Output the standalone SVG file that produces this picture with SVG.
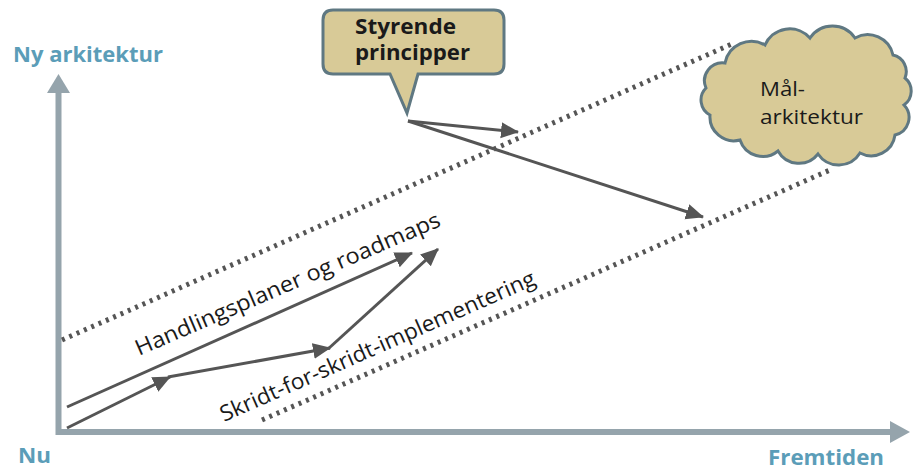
<svg xmlns="http://www.w3.org/2000/svg" width="913" height="470" viewBox="0 0 913 470">
<style>
.axis{stroke:#95A4AC;stroke-width:6;fill:none}
.axhead{fill:#95A4AC}
.axlbl{font-family:"Open Sans",Lato,sans-serif;font-weight:bold;font-size:21px;fill:#5B9DB8}
.dot{stroke:#555;stroke-width:5;stroke-dasharray:3 5;fill:none}
.arr{stroke:#555;stroke-width:3;fill:none;marker-end:url(#ah)}
.lbl{font-family:"Open Sans",Lato,sans-serif;font-size:22px;fill:#1a1a1a}
.bold{font-weight:bold;font-size:21px}
.cl{font-size:20px}
.shape{fill:#D8CA97;stroke:#5F7882;stroke-width:3}
</style>
<defs>
<marker id="ah" markerUnits="userSpaceOnUse" markerWidth="20" markerHeight="18" refX="17" refY="8" orient="auto" viewBox="0 0 20 16">
<path d="M0,0 L18,8 L0,16 z" fill="#555"/>
</marker>
</defs>
<g id="axes">
<path class="axis" d="M58.5,92 L58.5,432 L892,432"/>
<polygon class="axhead" points="58.5,74 70,93 47,93"/>
<polygon class="axhead" points="910,432 890,421 890,443"/>
<text class="axlbl" x="13" y="62" textLength="150" lengthAdjust="spacingAndGlyphs">Ny arkitektur</text>
<text class="axlbl" x="18" y="463" textLength="33" lengthAdjust="spacingAndGlyphs">Nu</text>
<text class="axlbl" x="768" y="465" textLength="116" lengthAdjust="spacingAndGlyphs">Fremtiden</text>
</g>
<g id="connectors">
<line class="dot" x1="62" y1="340" x2="734" y2="43"/>
<line class="dot" x1="262" y1="420" x2="830" y2="170"/>
<line class="arr" x1="67" y1="407" x2="412" y2="253"/>
<line class="arr" x1="67" y1="428" x2="170" y2="377"/>
<line class="arr" x1="168" y1="377" x2="330" y2="348"/>
<line class="arr" x1="328" y1="349" x2="438" y2="249"/>
<line class="arr" x1="408" y1="121" x2="518" y2="132"/>
<line class="arr" x1="408" y1="121" x2="703" y2="217"/>
</g>
<g id="label-handlingsplaner">
<text class="lbl" transform="translate(139,356) rotate(-23.3)" textLength="330" lengthAdjust="spacingAndGlyphs">Handlingsplaner og roadmaps</text>
</g>
<g id="label-skridt">
<text class="lbl" transform="translate(224,422) rotate(-23.8)" textLength="342" lengthAdjust="spacingAndGlyphs">Skridt-for-skridt-implementering</text>
</g>
<g id="styrende-principper">
<path class="shape" d="M333,10 L494,10 Q504,10 504,20 L504,64 Q504,74 494,74 L418,74 L407,113 L390,74 L333,74 Q323,74 323,64 L323,20 Q323,10 333,10 Z"/>
<text class="lbl bold" x="355" y="34" textLength="101" lengthAdjust="spacingAndGlyphs">Styrende</text>
<text class="lbl bold" x="355" y="60" textLength="115" lengthAdjust="spacingAndGlyphs">principper</text>
</g>
<g id="maal-arkitektur">
<path class="shape" d="M725,63 A27,27 0 0 1 765,45 A27,27 0 0 1 810,38 A27,27 0 0 1 855,38 A26,26 0 0 1 893,55 A17,17 0 0 1 905,78 A17,17 0 0 1 904,105 A18,18 0 0 1 895,135 A24,24 0 0 1 860,153 A25,25 0 0 1 818,154 A24,24 0 0 1 778,151 A24,24 0 0 1 740,140 A24,24 0 0 1 710,115 A17,17 0 0 1 706,88 A18,18 0 0 1 725,63 Z"/>
<text class="lbl cl" x="760" y="96" textLength="45" lengthAdjust="spacingAndGlyphs">Mål-</text>
<text class="lbl cl" x="760" y="124" textLength="103" lengthAdjust="spacingAndGlyphs">arkitektur</text>
</g>
</svg>
